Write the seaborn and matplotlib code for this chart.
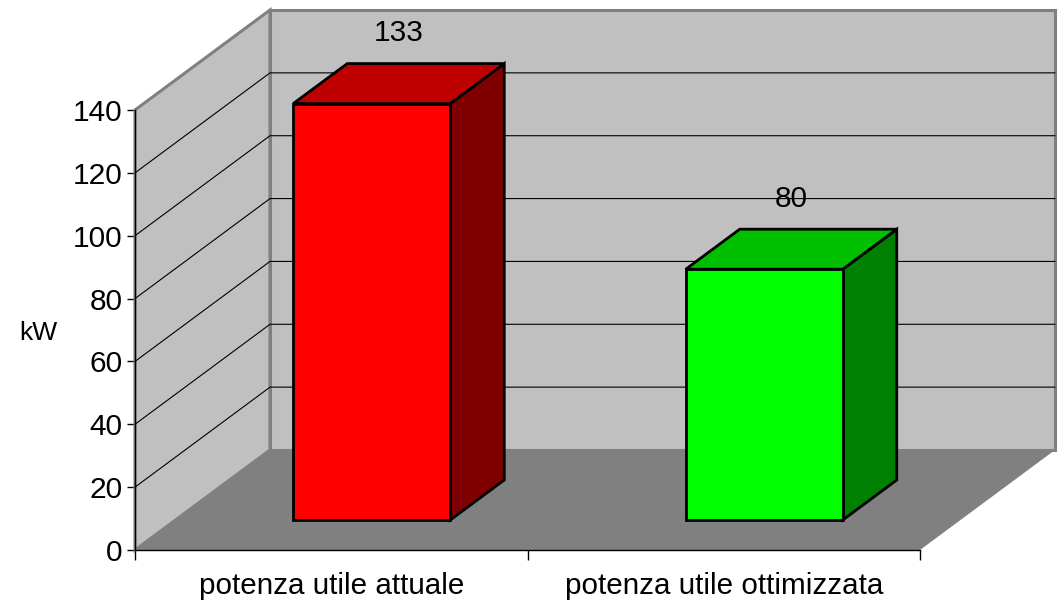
import matplotlib
matplotlib.use("Agg")
import matplotlib.pyplot as plt
import pandas as pd
import seaborn as sns

categories = ["potenza utile attuale", "potenza utile ottimizzata"]
values = [132.5, 79.8]
value_labels = ["133", "80"]
y_ticks = [0, 20, 40, 60, 80, 100, 120, 140]
front_colors = ["#FF0000", "#00FF00"]
top_colors = ["#BE0000", "#00BE00"]
side_colors = ["#800000", "#008000"]

# profondita' dello pseudo-3D, in unita' dei dati
DX = 135 / 392.5
DY = 100 / (440 / 140)
Z_FRONT = 0.3
Z_BACK = 0.7


def proj(x, y, z):
    return x + z * DX, y + z * DY


def face(ax, pts, color, edge="none", lw=0, zorder=1):
    xs, ys = zip(*pts)
    ax.fill(xs, ys, facecolor=color, edgecolor=edge, linewidth=lw,
            zorder=zorder, clip_on=False)


sns.set_theme(style="white")
plt.rcParams["font.family"] = ["Liberation Sans", "DejaVu Sans"]

fig = plt.figure(figsize=(10.59, 6), dpi=100)
ax = fig.add_axes([135 / 1059, 50 / 600, 785 / 1059, 440 / 600])
ax.patch.set_visible(False)

df = pd.DataFrame({"categoria": categories, "kW": values})
sns.barplot(data=df, x="categoria", y="kW", hue="categoria", palette=front_colors,
            saturation=1, width=0.4, legend=False, ax=ax, edgecolor="black",
            linewidth=2, zorder=5, clip_on=False)

x0, x1 = -0.5, 1.5
y0, y1 = 0, y_ticks[-1]
wall = "#C0C0C0"
border = "#808080"

# pareti e pavimento
face(ax, [proj(x0, y0, 1), proj(x1, y0, 1), proj(x1, y1, 1), proj(x0, y1, 1)], wall, border, 2.2)
face(ax, [proj(x0, y0, 0), proj(x0, y0, 1), proj(x0, y1, 1), proj(x0, y1, 0)], wall, border, 2.2)
face(ax, [proj(x0, y0, 0), proj(x1, y0, 0), proj(x1, y0, 1), proj(x0, y0, 1)], "#808080", zorder=2)

# griglia
for t in y_ticks[1:-1]:
    a, b, c = proj(x0, t, 0), proj(x0, t, 1), proj(x1, t, 1)
    ax.plot([a[0], b[0], c[0]], [a[1], b[1], c[1]], color="black", lw=0.8, zorder=3, clip_on=False)

# barre: facce frontali spostate in profondita', poi lati e tetto
for patch, val, lab, top, side in zip(ax.patches, values, value_labels, top_colors, side_colors):
    left = patch.get_x()
    right = left + patch.get_width()
    fx, fy = proj(left, 0, Z_FRONT)
    patch.set_x(fx)
    patch.set_y(fy)
    patch.set_clip_on(False)
    face(ax, [proj(right, 0, Z_FRONT), proj(right, 0, Z_BACK), proj(right, val, Z_BACK),
              proj(right, val, Z_FRONT)], side, "black", 2, zorder=4)
    face(ax, [proj(left, val, Z_FRONT), proj(right, val, Z_FRONT), proj(right, val, Z_BACK),
              proj(left, val, Z_BACK)], top, "black", 2, zorder=4)
    cx, cy = proj((left + right) / 2, val, 0.5)
    ax.annotate(lab, (cx, cy), xytext=(0, 36.5), textcoords="offset points",
                ha="center", va="center", fontsize=21.5, color="black", zorder=6,
                annotation_clip=False)

ax.set_xlim(x0, x1)
ax.set_ylim(y0, y1)
ax.set_yticks(y_ticks)
ax.set_xticks([-0.5, 0.5, 1.5])
ax.set_xticks([0, 1], labels=categories, minor=True)
ax.set_xticklabels([])
ax.tick_params(axis="x", which="major", length=7.5, width=1, color="black", direction="out", bottom=True)
ax.tick_params(axis="x", which="minor", length=0, labelsize=21.3, pad=16, labelcolor="black", bottom=True)
ax.tick_params(axis="y", length=6, width=1, color="black", direction="out", labelsize=21.5,
               pad=3, left=True, labelcolor="black")
ax.set_xlabel("")
ax.set_ylabel("")
fig.text(38 / 1059, 1 - 333 / 600, "kW", fontsize=19, ha="center", va="center", color="black")

for s in ["top", "right"]:
    ax.spines[s].set_visible(False)
for s in ["left", "bottom"]:
    ax.spines[s].set_color("black")
    ax.spines[s].set_linewidth(1)
    ax.spines[s].set_zorder(6)

fig.savefig("out.png", dpi=100)
